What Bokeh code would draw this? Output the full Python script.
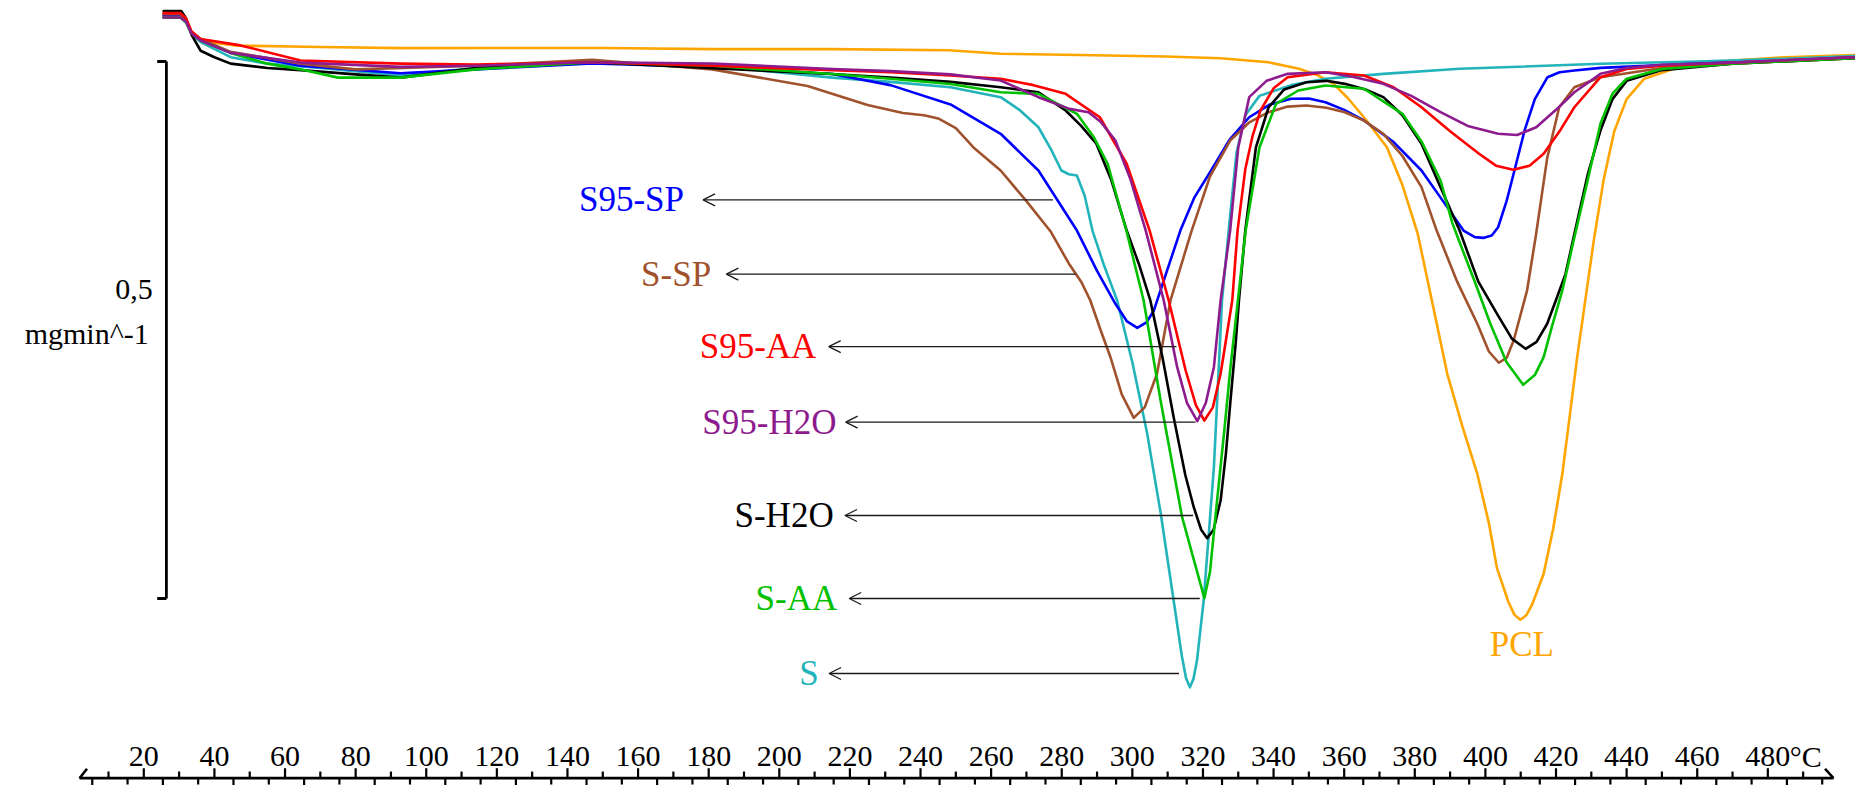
from bokeh.plotting import figure
from bokeh.models import Arrow, OpenHead, ColumnDataSource
from bokeh.core.properties import value
from bokeh.embed import file_html
from bokeh.resources import INLINE

# ---------------- data (temperature in degC, DTG in mg/min, arbitrary zero) -------------
names = ["PCL", "S", "S95-SP", "S-SP", "S-H2O", "S-AA", "S95-AA", "S95-H2O"]
colors = ["#FFA500", "#22B4BA", "#0000FF", "#A0522D", "#000000", "#00C000", "#FF0000", "#8E1B8E"]

pcl_T = [25.6, 30.4, 32.0, 33.5, 36.1, 46.6, 70, 93, 120, 150, 181, 215, 248, 262.7, 285, 309.3, 325,
         338.6, 347.2, 352, 357.0, 361, 365.6, 372.1, 376.5, 380.8, 385, 389.2, 393.5, 397.7, 401, 403.3,
         406.5, 408.2, 409.9, 411.6, 413.2, 416.5, 419.2, 421.8, 426.0, 430.7, 433.5, 436.5, 440, 445, 455,
         470, 485, 504.5]
pcl_v = [0.041, 0.041, 0.036, 0.026, 0.019, 0.0148, 0.0135, 0.0125, 0.0126, 0.0126, 0.0115, 0.0115, 0.0105,
         0.0072, 0.006, 0.0047, 0.003, -0.0007, -0.0068, -0.012, -0.0208, -0.034, -0.0519, -0.0798, -0.115,
         -0.160, -0.225, -0.2908, -0.34, -0.3839, -0.43, -0.472, -0.503, -0.515, -0.5198, -0.5155, -0.506,
         -0.477, -0.435, -0.3839, -0.2753, -0.1667, -0.11, -0.065, -0.035, -0.016, -0.005, 0.001, 0.004,
         0.006]

s_T = [25.6, 30.4, 32.0, 33.5, 36.1, 44.6, 55, 70, 92.7, 114, 147, 181, 215, 231.5, 248.5, 262.7, 268,
       273.4, 277, 279.9, 282, 284.3, 286.5, 288.7, 292, 295.7, 300, 304.2, 308, 311.7, 314, 315.2, 316.3,
       317.3, 318.3, 320.2, 323.1, 325.4, 327.5, 329.5, 332, 336, 345, 354.7, 371.1, 392.7, 432.6, 460, 480,
       504.5]
s_v = [0.041, 0.041, 0.036, 0.026, 0.018, 0.004, -0.002, -0.006, -0.013, -0.006, -0.001, -0.004, -0.015,
       -0.019, -0.024, -0.0332, -0.045, -0.0612, -0.082, -0.1015, -0.105, -0.1061, -0.125, -0.1574, -0.19,
       -0.2225, -0.28, -0.3464, -0.42, -0.5019, -0.553, -0.574, -0.5826, -0.575, -0.558, -0.5019, -0.3778,
       -0.2225, -0.15, -0.085, -0.05, -0.032, -0.022, -0.0161, -0.0115, -0.0068, -0.0021, 0.0, 0.002, 0.005]

s95sp_T = [25.6, 30.4, 32.0, 33.5, 36.1, 44.6, 64.4, 92.7, 114, 147, 181, 215, 231.5, 248.5, 262.7, 273.4,
           284.3, 290, 295.2, 298.5, 301.4, 304, 306.1, 309.5, 313.6, 317.5, 322.3, 327.5, 333.1, 339, 345.0,
           350, 354.7, 360, 365.6, 374, 381.9, 388, 393.8, 397, 399.6, 401.8, 403.6, 406, 408.5, 411.1, 414,
           417.6, 421, 425.2, 432.6, 460, 480, 504.5]
s95sp_v = [0.043, 0.043, 0.038, 0.027, 0.02, 0.008, -0.004, -0.011, -0.0073, -0.0018, -0.005, -0.0117,
           -0.022, -0.040, -0.0673, -0.1015, -0.1574, -0.195, -0.2256, -0.242, -0.248, -0.243, -0.2318,
           -0.198, -0.1574, -0.127, -0.1015, -0.073, -0.0519, -0.04, -0.0347, -0.0345, -0.0379, -0.045,
           -0.0549, -0.075, -0.1015, -0.13, -0.1574, -0.1635, -0.1642, -0.162, -0.1543, -0.13, -0.098,
           -0.0642, -0.035, -0.0146, -0.01, -0.0084, -0.0059, -0.002, 0.0, 0.004]

ssp_T = [25.6, 30.4, 32.0, 33.5, 36.1, 44.6, 64.4, 80, 114, 147, 181, 208, 225, 235, 241, 245, 250, 255,
         262.7, 270, 276.8, 282, 285.5, 288.1, 291, 293.8, 297, 300.4, 303.5, 307.0, 310.8, 316.8, 322,
         327.7, 333, 338.6, 344, 349.3, 355, 360.2, 365.6, 371.1, 376.5, 381.9, 386.2, 392, 397.7, 401,
         403.8, 406, 408.0, 411.8, 414.3, 417.5, 420.9, 425.2, 432.6, 450, 470, 504.5]
ssp_v = [0.044, 0.044, 0.039, 0.028, 0.021, 0.009, -0.002, -0.0073, -0.004, 0.0016, -0.0073, -0.0228,
         -0.0404, -0.048, -0.050, -0.053, -0.062, -0.08, -0.1015, -0.13, -0.158, -0.188, -0.205, -0.2225,
         -0.25, -0.2753, -0.31, -0.3318, -0.322, -0.2905, -0.2225, -0.1574, -0.107, -0.0736, -0.057,
         -0.0472, -0.042, -0.041, -0.043, -0.0472, -0.055, -0.0673, -0.088, -0.117, -0.1574, -0.205,
         -0.2442, -0.27, -0.2805, -0.276, -0.2598, -0.2132, -0.162, -0.09, -0.0426, -0.0239, -0.0146,
         -0.006, -0.002, 0.003]

sh2o_T = [25.6, 30.6, 32.0, 33.5, 36.1, 40, 44.6, 55, 64.4, 80, 92.7, 114, 147, 181, 215, 231.5, 248.5,
          262.7, 273.4, 281.1, 285.5, 289.8, 294, 298.4, 302, 305.1, 308.5, 311.7, 315, 317.4, 319.5, 321.2,
          323, 325.0, 326.5, 327.8, 329.2, 330.2, 332, 335, 338.6, 343, 349.3, 355, 360.2, 366, 371.1,
          376.5, 381.9, 387, 392.7, 398, 403.3, 407.5, 411.4, 414.5, 417.5, 420, 422.7, 425.1, 429, 432.6,
          436, 440, 450, 470, 504.5]
sh2o_v = [0.047, 0.047, 0.040, 0.025, 0.010, 0.004, -0.002, -0.006, -0.008, -0.012, -0.015, -0.0062,
          -0.0007, -0.0062, -0.0117, -0.015, -0.019, -0.0239, -0.0286, -0.0456, -0.06, -0.0766, -0.11,
          -0.1574, -0.19, -0.2225, -0.275, -0.3312, -0.385, -0.415, -0.436, -0.4438, -0.436, -0.4088,
          -0.365, -0.3156, -0.265, -0.2225, -0.157, -0.08, -0.0426, -0.026, -0.0193, -0.018, -0.0208,
          -0.026, -0.0332, -0.05, -0.0766, -0.115, -0.1574, -0.205, -0.2349, -0.258, -0.2675, -0.261,
          -0.2442, -0.222, -0.1977, -0.162, -0.105, -0.0642, -0.035, -0.018, -0.008, -0.002, 0.003]

saa_T = [25.6, 30.4, 32.0, 33.5, 36.1, 44.6, 55, 64.4, 75, 92.7, 114, 147, 181, 215, 231.5, 248.5, 262.7,
         273.4, 284.3, 289, 293.0, 298.3, 303.2, 308.0, 314.1, 317.5, 320.4, 322, 324.0, 326, 327.8, 329.9,
         332.1, 336, 340.7, 347, 354.7, 365.6, 376.5, 382, 387.3, 390.6, 392.5, 397, 401.4, 406, 410.7, 414,
         416.5, 419, 421.8, 425.0, 429, 432.6, 436, 440, 450, 470, 504.5]
saa_v = [0.041, 0.041, 0.037, 0.026, 0.0196, 0.008, -0.002, -0.0073, -0.015, -0.015, -0.0073, -0.0007,
         -0.004, -0.0117, -0.016, -0.021, -0.0286, -0.0301, -0.0487, -0.07, -0.0952, -0.1574, -0.2225,
         -0.3156, -0.4243, -0.465, -0.4997, -0.475, -0.4088, -0.345, -0.2846, -0.2225, -0.1574, -0.08,
         -0.0394, -0.027, -0.0223, -0.0254, -0.0487, -0.075, -0.1108, -0.150, -0.1667, -0.205, -0.2442,
         -0.28, -0.301, -0.292, -0.2753, -0.245, -0.2132, -0.1667, -0.11, -0.0577, -0.03, -0.016, -0.007,
         -0.002, 0.003]

s95aa_T = [25.6, 30.4, 32.0, 33.5, 36.1, 47.4, 64.4, 92.7, 114, 147, 181, 215, 231.5, 248.5, 262.7, 272,
           281.1, 290.8, 298.4, 304.9, 310.3, 315.1, 318, 320.4, 322.8, 325.0, 328.3, 329.8, 332, 334,
           336.3, 340, 344.0, 354.7, 365.6, 374, 381.9, 390, 398.2, 403, 407.9, 412.5, 416.5, 421, 425.2,
           432.6, 440, 450, 470, 504.5]
s95aa_v = [0.045, 0.045, 0.040, 0.028, 0.021, 0.015, 0.001, -0.002, -0.0029, -0.0007, -0.004, -0.008,
           -0.010, -0.013, -0.0161, -0.022, -0.0301, -0.0519, -0.0952, -0.1574, -0.2225, -0.2877, -0.32,
           -0.3343, -0.322, -0.2908, -0.2225, -0.1574, -0.1, -0.07, -0.0456, -0.025, -0.0146, -0.010,
           -0.013, -0.024, -0.0426, -0.065, -0.0859, -0.097, -0.1008, -0.097, -0.0859, -0.065, -0.0426,
           -0.0146, -0.007, -0.004, -0.001, 0.004]

s95h2o_T = [25.6, 30.4, 32.0, 33.5, 36.1, 44.6, 64.4, 92.7, 114, 147, 181, 215, 231.5, 248.5, 262.7, 273.4,
            282.2, 287.6, 291, 295.2, 299.5, 303.8, 308.9, 312.7, 315.5, 318.4, 320.8, 323.1, 325.0, 327.7,
            330, 333.1, 338, 344.0, 354.7, 362, 371.1, 379, 387.3, 395, 403.6, 409, 414.4, 420, 425.2,
            432.6, 440, 450, 470, 504.5]
s95h2o_v = [0.041, 0.041, 0.037, 0.026, 0.0196, 0.008, -0.001, -0.005, -0.004, -0.0007, -0.0018, -0.007,
            -0.009, -0.012, -0.0177, -0.0332, -0.0441, -0.0472, -0.056, -0.0736, -0.11, -0.1574, -0.2225,
            -0.2846, -0.318, -0.3349, -0.318, -0.2846, -0.2225, -0.1574, -0.08, -0.0332, -0.018, -0.0115,
            -0.010, -0.014, -0.0208, -0.032, -0.0472, -0.06, -0.0673, -0.0685, -0.0612, -0.045, -0.0286,
            -0.0115, -0.006, -0.003, -0.001, 0.004]

series_T = [pcl_T, s_T, s95sp_T, ssp_T, sh2o_T, saa_T, s95aa_T, s95h2o_T]
series_v = [pcl_v, s_v, s95sp_v, ssp_v, sh2o_v, saa_v, s95aa_v, s95h2o_v]

# annotation labels with arrows
arrow_labels = ["S95-SP", "S-SP", "S95-AA", "S95-H2O", "S-H2O", "S-AA", "S"]
arrow_colors = ["#0000FF", "#A0522D", "#FF0000", "#8E1B8E", "#000000", "#00C000", "#22B4BA"]
arrow_y = [-0.1288, -0.198, -0.2654, -0.3358, -0.4227, -0.5, -0.5698]
arrow_head_T = [178.4, 185.0, 214.0, 218.8, 218.6, 219.8, 214.1]
arrow_tail_T = [277.5, 284.0, 312.5, 317.9, 317.2, 319.1, 313.2]
label_right_T = [173.0, 180.7, 210.5, 216.2, 215.4, 216.4, 211.2]

pcl_label_T, pcl_label_v = 410.3, -0.5428

# temperature axis
tick_labels_T = list(range(20, 481, 20))
tick_labels = [str(t) for t in tick_labels_T]
unit_label = "°C"
minor_up_T = list(range(10, 491, 20))
down_long_T = [5.4 + 20 * k for k in range(25)]
down_short_T = [15.4 + 20 * k for k in range(25)]

# scale bar 0.5 mg/min
scale_top, scale_bottom = 0.0, -0.5
scale_T = 26.4
scale_texts = ["0,5", "mgmin^-1"]

# ---------------- figure ----------------
x0, x1 = -20.59, 504.83
y0, y1 = -0.6741, 0.0568
p = figure(width=1855, height=785, x_range=(x0, x1), y_range=(y0, y1),
           output_backend="svg", toolbar_location=None, x_axis_type=None, y_axis_type=None,
           min_border=0, outline_line_color=None, background_fill_color="white",
           border_fill_color="white")

serif = value("Liberation Serif")

for T, v, c in zip(series_T, series_v, colors):
    p.line(T, v, line_color=c, line_width=2.6, line_join="round", line_cap="round")

# arrows + labels
asrc = ColumnDataSource(dict(xs=arrow_tail_T, xe=arrow_head_T, y=arrow_y))
p.add_layout(Arrow(end=OpenHead(size=12, line_width=1.3, line_color="#1a1a1a"),
                   x_start="xs", y_start="y", x_end="xe", y_end="y", source=asrc,
                   line_width=1.3, line_color="#1a1a1a"))
p.text(x=label_right_T, y=arrow_y, text=arrow_labels, text_color=arrow_colors,
       text_font=serif, text_font_size="35px", text_align="right", text_baseline="middle")
p.text(x=[pcl_label_T], y=[pcl_label_v], text=["PCL"], text_color="#FFA500",
       text_font=serif, text_font_size="35px", text_align="center", text_baseline="middle")

# scale bar
dx_serif = 2.6
p.segment(x0=[scale_T], y0=[scale_top], x1=[scale_T], y1=[scale_bottom], line_width=2.8, line_color="black")
p.segment(x0=[scale_T - dx_serif, scale_T - dx_serif], y0=[scale_top, scale_bottom],
          x1=[scale_T, scale_T], y1=[scale_top, scale_bottom], line_width=2.8, line_color="black")
p.text(x=[22.5, 21.4], y=[-0.212, -0.2533], text=scale_texts, text_color="black",
       text_font=serif, text_font_size="30px", text_align="right", text_baseline="middle")

# temperature axis drawn in data space
ax_v = -0.6673
up_major, up_minor = 0.0093, 0.0062
dn_long, dn_short = 0.0096, 0.0059
p.segment(x0=[1.8], y0=[ax_v], x1=[498.6], y1=[ax_v], line_width=2.8, line_color="black")
p.segment(x0=[1.8, 498.6], y0=[ax_v, ax_v], x1=[3.9, 496.2], y1=[ax_v + 0.0088, ax_v + 0.0088],
          line_width=2.6, line_color="black")
p.segment(x0=tick_labels_T, y0=[ax_v] * len(tick_labels_T), x1=tick_labels_T,
          y1=[ax_v + up_major] * len(tick_labels_T), line_width=2.2, line_color="black")
p.segment(x0=minor_up_T, y0=[ax_v] * len(minor_up_T), x1=minor_up_T,
          y1=[ax_v + up_minor] * len(minor_up_T), line_width=2.2, line_color="black")
p.segment(x0=down_long_T, y0=[ax_v] * len(down_long_T), x1=down_long_T,
          y1=[ax_v - dn_long] * len(down_long_T), line_width=2.2, line_color="black")
p.segment(x0=down_short_T, y0=[ax_v] * len(down_short_T), x1=down_short_T,
          y1=[ax_v - dn_short] * len(down_short_T), line_width=2.2, line_color="black")
lab_v = -0.6471
p.text(x=tick_labels_T, y=[lab_v] * len(tick_labels_T), text=tick_labels, text_color="black",
       text_font=serif, text_font_size="30px", text_align="center", text_baseline="alphabetic")
p.text(x=[tick_labels_T[-1]], y=[lab_v], text=[unit_label], x_offset=22, text_color="black",
       text_font=serif, text_font_size="30px", text_align="left", text_baseline="alphabetic")

open("out.html", "w").write(file_html(p, INLINE))
